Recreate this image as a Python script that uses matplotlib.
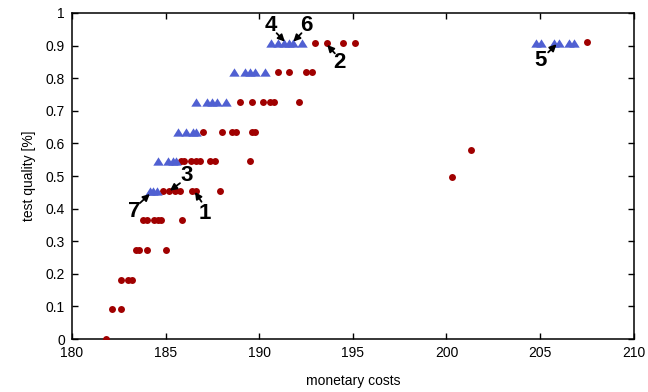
import matplotlib
matplotlib.use("Agg")
import matplotlib.pyplot as plt

plt.rcParams['font.family'] = ['Liberation Sans', 'DejaVu Sans']

# blue triangles (pareto-ish set)
tri_x = [184.15, 184.35, 184.55,
         184.6, 185.15, 185.4, 185.55,
         185.65, 186.1, 186.45, 186.65,
         186.6, 187.2, 187.5, 187.75, 188.25,
         188.65, 189.25, 189.5, 189.75, 190.3,
         190.65, 191.0, 191.3, 191.6, 191.8, 192.3,
         204.8, 205.05, 205.75, 206.0, 206.55, 206.8]
tri_y = [0.455, 0.455, 0.455,
         0.545, 0.545, 0.545, 0.545,
         0.636, 0.636, 0.636, 0.636,
         0.727, 0.727, 0.727, 0.727, 0.727,
         0.818, 0.818, 0.818, 0.818, 0.818,
         0.909, 0.909, 0.909, 0.909, 0.909, 0.909,
         0.909, 0.909, 0.909, 0.909, 0.909, 0.909]

# dark red circles
circ_x = [181.8,
          182.15, 182.6,
          182.6, 183.0, 183.2,
          183.4, 183.6, 184.0, 185.0,
          183.8, 184.0, 184.4, 184.6, 184.75, 185.9,
          184.85, 185.2, 185.5, 185.75, 186.4, 186.6, 187.9,
          185.8, 186.0, 186.35, 186.6, 186.85, 187.35, 187.65, 189.5,
          187.0, 188.0, 188.55, 188.75, 189.6, 189.8,
          189.0, 189.6, 190.2, 190.6, 190.8, 192.1,
          191.0, 191.6, 192.5, 192.8,
          193.0, 193.6, 194.5, 195.1,
          207.5, 200.3, 201.3]
circ_y = [0.0,
          0.091, 0.091,
          0.182, 0.182, 0.182,
          0.273, 0.273, 0.273, 0.273,
          0.364, 0.364, 0.364, 0.364, 0.364, 0.364,
          0.455, 0.455, 0.455, 0.455, 0.455, 0.455, 0.455,
          0.545, 0.545, 0.545, 0.545, 0.545, 0.545, 0.545, 0.545,
          0.636, 0.636, 0.636, 0.636, 0.636, 0.636,
          0.727, 0.727, 0.727, 0.727, 0.727, 0.727,
          0.818, 0.818, 0.818, 0.818,
          0.909, 0.909, 0.909, 0.909,
          0.911, 0.496, 0.579]

# numbered labels: text position, arrow tail, arrow head
lab_names = ['1', '2', '3', '4', '5', '6', '7']
lab_pos = [(187.1, 0.386), (194.27, 0.849), (186.12, 0.503), (190.61, 0.963),
           (205.02, 0.854), (192.53, 0.963), (183.31, 0.39)]
arr_tail = [(186.92, 0.421), (194.04, 0.876), (185.77, 0.478), (190.93, 0.938),
            (205.43, 0.879), (192.26, 0.938), (183.63, 0.417)]
arr_head = [(186.57, 0.451), (193.63, 0.902), (185.23, 0.455), (191.37, 0.912),
            (205.88, 0.904), (191.82, 0.912), (184.16, 0.445)]

# flat triangle like gnuplot's
flat_tri = [(-1, -0.8), (1, -0.8), (0, 0.8), (-1, -0.8)]

fig = plt.figure(figsize=(6.48, 3.92), dpi=100)
ax = fig.add_axes([0.111, 0.135, 0.867, 0.832])

ax.plot(circ_x, circ_y, 'o', color='#a00000', markersize=5.0, markeredgewidth=0, zorder=3)
ax.plot(tri_x, tri_y, marker=flat_tri, linestyle='none', color='#5060d2',
        markersize=7.5, markeredgewidth=0, zorder=4)

for name, p, t, h in zip(lab_names, lab_pos, arr_tail, arr_head):
    ax.annotate('', xy=h, xytext=t,
                arrowprops=dict(arrowstyle='-|>', color='black', lw=1.3,
                                mutation_scale=10, shrinkA=0, shrinkB=0),
                zorder=5)
    ax.text(p[0], p[1], name, fontsize=16, fontweight='bold',
            ha='center', va='center', zorder=6)

ax.set_xlim(180, 210)
ax.set_ylim(0, 1)
ax.set_xticks([180, 185, 190, 195, 200, 205, 210])
ax.set_yticks([0, 0.1, 0.2, 0.3, 0.4, 0.5, 0.6, 0.7, 0.8, 0.9, 1])
ax.set_yticklabels(['0', '0.1', '0.2', '0.3', '0.4', '0.5', '0.6', '0.7', '0.8', '0.9', '1'])
ax.tick_params(direction='in', length=4, width=1, top=True, right=True,
               labelsize=10, pad=5)
for s in ax.spines.values():
    s.set_linewidth(1.1)

ax.set_xlabel('monetary costs', fontsize=10, labelpad=10)
ax.set_ylabel('test quality [%]', fontsize=10, labelpad=7)

fig.savefig('out.png', dpi=100)
